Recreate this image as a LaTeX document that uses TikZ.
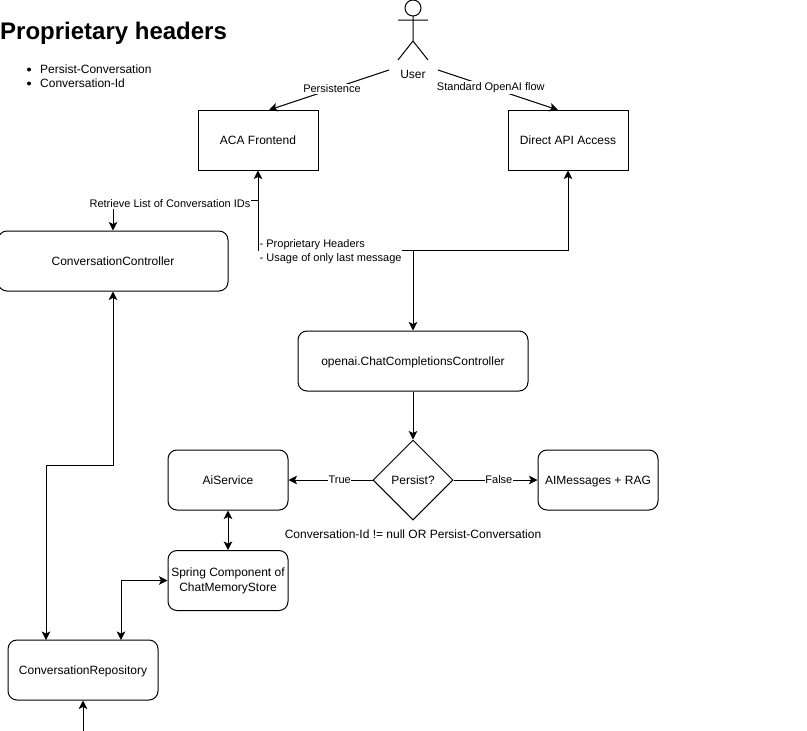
\documentclass[tikz,border=0pt]{standalone}
\usepackage{fontspec}
\setmainfont{Liberation Sans}
\usetikzlibrary{arrows.meta,shapes.geometric}
\tikzset{
  every node/.style={font=\fontsize{12}{14}\selectfont, inner sep=0pt},
  sq/.style={draw, line width=1pt, minimum width=120pt, minimum height=60pt, align=center, text height=9.6pt, text depth=1.6pt},
  rnd/.style={sq, rounded corners=9pt},
  conn/.style={line width=1pt, -{Stealth[length=8.5pt,width=8.5pt,inset=2pt]}},
  both/.style={line width=1pt, {Stealth[length=8.5pt,width=8.5pt,inset=2pt]}-{Stealth[length=8.5pt,width=8.5pt,inset=2pt]}},
  lab/.style={fill=white, font=\fontsize{11}{14}\selectfont, inner xsep=0.5pt, inner ysep=1pt},
}
\begin{document}
\begin{tikzpicture}[x=1pt,y=-1pt]
\useasboundingbox (0,0) rectangle (807,731);
% title and bullets
\node[anchor=base west, font=\bfseries\fontsize{24}{28}\selectfont] (title) at (0,39) {Proprietary headers};
\fill (29,69.5) circle (2pt);
\fill (29,83.5) circle (2pt);
\node[anchor=base west] (b1) at (40,73) {Persist-Conversation};
\node[anchor=base west] (b2) at (40,87) {Conversation-Id};
% actor
\draw[line width=1pt] (413,8) circle (8pt);
\draw[line width=1pt] (413,16) -- (413,41) (398,20) -- (428,20) (398,60) -- (413,41) -- (428,60);
\node (user) at (413,74) {User};
% boxes
\node[sq] (aca) at (258,140) {ACA Frontend};
\node[sq] (api) at (568,140) {Direct API Access};
\node[rnd, minimum width=230pt] (cc) at (113,261) {ConversationController};
\node[rnd, minimum width=230pt] (chat) at (413,361) {openai.ChatCompletionsController};
\node[draw, diamond, aspect=1, line width=1pt, minimum width=80pt, minimum height=80pt] (persist) at (413,480) {Persist?};
\node[rnd] (ai) at (228,480) {AiService};
\node[rnd] (msg) at (598,480) {AIMessages + RAG};
\node[rnd, text height=, text depth=, font=\fontsize{12}{15}\selectfont] (spring) at (228,580.5) {Spring Component of\\ChatMemoryStore};
\node[rnd, minimum width=150pt] (repo) at (83,670) {ConversationRepository};
\coordinate (userL) at (389,70);
\coordinate (userR) at (438,70);
\coordinate (acaT) at (269,110);
\coordinate (apiT) at (558,110);
\coordinate (bottom) at (83,731);
% connectors
\draw[conn] (userL) -- node[lab, pos=0.475] {Persistence} (acaT);
\draw[conn] (userR) -- node[lab, pos=0.44] {Standard OpenAI flow} (apiT);
\draw[conn] (413,250) -- (258,250) -- (aca.south);
\draw[conn] (413,250) -- (568,250) -- (api.south);
\draw[conn] (413,250) -- (chat.north);
\draw[conn] (258,200) -- (113,200) -- (cc.north);
\node[lab] (retr) at (170,204) {Retrieve List of Conversation IDs};
\node[lab, align=left, anchor=west] (hdr) at (259,252) {- Proprietary Headers\\- Usage of only last message};
\draw[conn] (chat.south) -- (persist.north);
\draw[conn] (persist.west) -- node[lab, pos=0.39] {True} (ai.east);
\draw[conn] (persist.east) -- node[lab, pos=0.54] {False} (msg.west);
\node[anchor=center] (cond) at (413,534) {Conversation-Id != null OR Persist-Conversation};
\draw[both] (ai.south) -- (spring.north);
\draw[both] (spring.west) -- (121,580.5) -- (121,640);
\draw[both] (cc.south) -- (113,465) -- (46,465) -- (46,640);
\draw[conn] (bottom) -- (repo.south);
\end{tikzpicture}
\end{document}
